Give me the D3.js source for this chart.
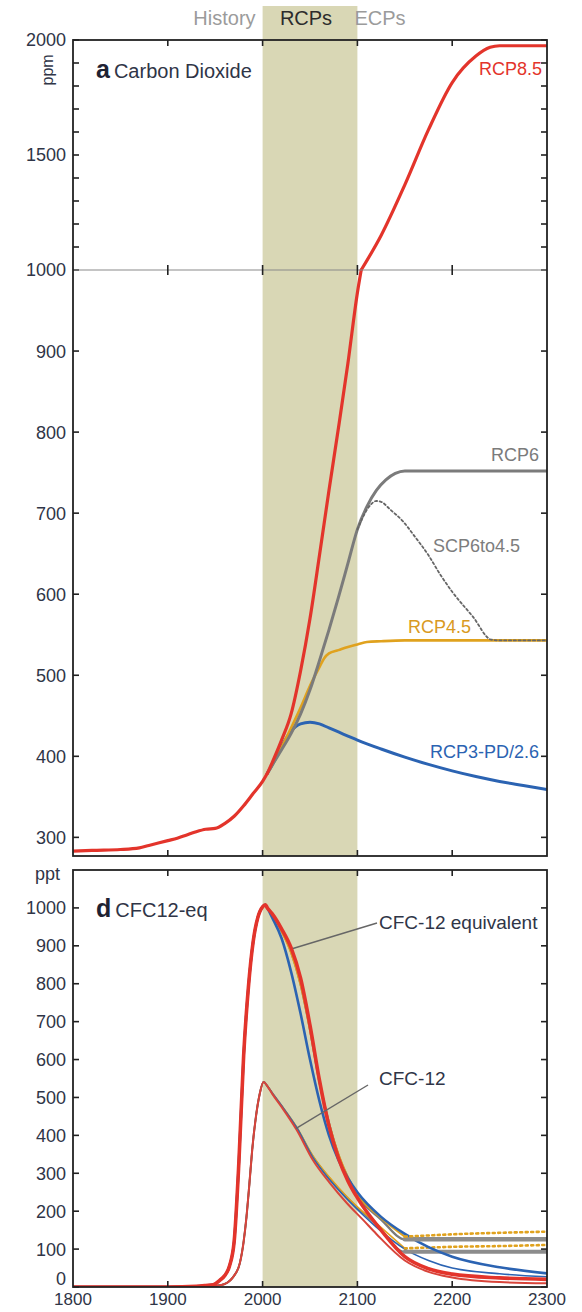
<!DOCTYPE html>
<html><head><meta charset="utf-8">
<script src="https://cdn.jsdelivr.net/npm/d3@7"></script>
<style>
html,body{margin:0;padding:0;background:#fff;}
svg{display:block;font-family:"Liberation Sans",Arial,Helvetica,sans-serif;}
</style></head><body>
<svg id="chart" width="582" height="1312"></svg>
<script>
// ---------------- data ----------------
const eraLabels = ["History", "RCPs", "ECPs"];
const rcpPeriod = [2000, 2100];
const yearTicks = [1800, 1900, 2000, 2100, 2200, 2300];

// Panel a: CO2 concentration (ppm)
const co2LowTicks = [300, 400, 500, 600, 700, 800, 900, 1000];
const co2HighTicks = [1500, 2000];
const histYears = [1800, 1820, 1850, 1870, 1880, 1900, 1910, 1920, 1930, 1940, 1950, 1960, 1970, 1980, 1990, 2000, 2005];
const histCO2   = [283, 284, 285, 287, 290, 296, 299, 303, 307, 310, 311, 317, 326, 339, 354, 369, 379];

const rcp85Years = [2005, 2010, 2020, 2030, 2040, 2050, 2060, 2070, 2080, 2090, 2100, 2104, 2125, 2150, 2175, 2200, 2225, 2240, 2250, 2300];
const rcp85CO2   = [379, 392, 420, 452, 505, 570, 648, 728, 805, 885, 972, 1000, 1150, 1370, 1610, 1815, 1930, 1968, 1975, 1975];

const rcp6Years = [2005, 2010, 2020, 2030, 2040, 2050, 2060, 2070, 2080, 2090, 2100, 2110, 2120, 2130, 2140, 2150, 2300];
const rcp6CO2   = [379, 389, 408, 428, 452, 482, 518, 556, 596, 638, 680, 708, 728, 741, 749, 752, 752];

const scpYears = [2100, 2110, 2120, 2125, 2135, 2148, 2160, 2175, 2187, 2200, 2222, 2241, 2250, 2300];
const scpCO2   = [680, 704, 715, 714, 704, 690, 672, 648, 625, 603, 572, 544, 543, 543];

const rcp45Years = [2005, 2010, 2020, 2030, 2040, 2050, 2060, 2065, 2070, 2080, 2090, 2100, 2110, 2125, 2150, 2300];
const rcp45CO2   = [379, 389, 411, 435, 460, 487, 510, 521, 527, 531, 535, 538, 541, 542, 543, 543];

const rcp3Years = [2005, 2010, 2020, 2030, 2040, 2050, 2060, 2070, 2080, 2090, 2100, 2125, 2150, 2175, 2200, 2225, 2250, 2275, 2300];
const rcp3CO2   = [379, 389, 412, 431, 440, 442, 440, 435, 430, 425, 420, 409, 399, 390, 382, 375, 369, 364, 359];

// Panel d: CFC-12 and CFC-12 equivalent (ppt)
const pptTicks = [0, 100, 200, 300, 400, 500, 600, 700, 800, 900, 1000];

const eqHistYears = [1800, 1900, 1930, 1940, 1948, 1955, 1960, 1965, 1970, 1975, 1980, 1985, 1990, 1995, 2000, 2003, 2005];
const eqHist      = [0, 0, 2, 4, 6, 18, 30, 55, 120, 330, 610, 790, 910, 975, 1003, 1008, 1000];

const eqScenYears = [2005, 2010, 2020, 2030, 2040, 2050, 2060, 2070, 2080, 2090, 2100, 2125, 2150, 2175, 2200, 2250, 2300];
const eq85  = [1000, 985, 945, 895, 815, 690, 545, 425, 340, 280, 235, 150, 80, 48, 34, 24, 20];
const eq3   = [1000, 975, 920, 832, 722, 600, 490, 400, 335, 287, 250, 185, 140, 105, 80, 52, 36];
const eq6   = [1000, 985, 940, 885, 800, 680, 540, 432, 348, 288, 242, 178, 126, 126, 126, 126, 126];
const eq45  = [1000, 985, 938, 882, 798, 678, 540, 432, 350, 290, 245, 182, 133, 136, 139, 143, 146];

const cfcHistYears = [1800, 1900, 1940, 1950, 1960, 1966, 1970, 1976, 1980, 1983, 1986, 1989, 1993, 1997, 2001, 2005];
const cfcHist      = [0, 0, 1, 3, 8, 18, 30, 63, 120, 185, 270, 361, 450, 510, 541, 530];

const cfcScenYears = [2005, 2010, 2020, 2036, 2053, 2071, 2089, 2106, 2120, 2150, 2175, 2200, 2250, 2300];
const cfc85 = [530, 510, 475, 414, 335, 274, 221, 177, 140, 70, 40, 25, 13, 10];
const cfc3  = [530, 512, 478, 420, 342, 282, 232, 190, 158, 100, 70, 50, 35, 27];
const cfc6  = [530, 512, 478, 420, 345, 286, 236, 195, 165, 93, 93, 93, 93, 93];
const cfc45 = [530, 512, 478, 421, 346, 288, 238, 198, 168, 102, 104, 106, 108, 111];

// ---------------- layout ----------------
const svg = d3.select("#chart");
const font = "'Liberation Sans', Arial, Helvetica, sans-serif";
const inkText = "#2f3547";
const colRed = "#e3342b", colBlue = "#2b63b2", colGray = "#7b7b7b", colOrange = "#e0a21e", colBand = "#d9d7b5";

const x = d3.scaleLinear().domain([1800, 2300]).range([73, 547]);

// broken CO2 axis: a compressed segment above 1000 ppm
const yLow = d3.scaleLinear().domain([277, 1000]).range([856, 270]);
const yHigh = d3.scaleLinear().domain([1000, 2000]).range([270, 40]);
const yCO2 = v => v <= 1000 ? yLow(v) : yHigh(v);

const yPpt = d3.scaleLinear().domain([0, 1100]).range([1287, 870]);

const zip = (xs, vs) => xs.map((t, i) => ({t, v: vs[i]}));

// ---------------- era band + header ----------------
svg.append("rect")
  .attr("x", x(rcpPeriod[0])).attr("width", x(rcpPeriod[1]) - x(rcpPeriod[0]))
  .attr("y", 6).attr("height", yLow.range()[0] - 6)
  .attr("fill", colBand);
svg.append("rect")
  .attr("x", x(rcpPeriod[0])).attr("width", x(rcpPeriod[1]) - x(rcpPeriod[0]))
  .attr("y", yPpt(1100)).attr("height", yPpt(0) - yPpt(1100))
  .attr("fill", colBand);

const header = svg.append("g").attr("font-size", 20).attr("font-family", font);
header.append("text").attr("x", x(rcpPeriod[0]) - 7).attr("y", 25).attr("text-anchor", "end")
  .attr("fill", "#9b9b9b").text(eraLabels[0]);
header.append("text").attr("x", (x(rcpPeriod[0]) + x(rcpPeriod[1])) / 2 - 4).attr("y", 25).attr("text-anchor", "middle")
  .attr("fill", "#2c2c2c").text(eraLabels[1]);
header.append("text").attr("x", x(rcpPeriod[1]) - 3).attr("y", 25).attr("text-anchor", "start")
  .attr("fill", "#9b9b9b").text(eraLabels[2]);

// ---------------- helpers ----------------
function frameAndTicks(g, top, bottom, yTicksAll, yScale, midRuleY) {
  const L = x.range()[0], R = x.range()[1], tl = 6;
  // y ticks on both sides (inward)
  g.selectAll(null).data(yTicksAll).join("line")
    .attr("x1", L).attr("x2", L + tl).attr("y1", d => yScale(d)).attr("y2", d => yScale(d))
    .attr("stroke", "#222").attr("stroke-width", 1.6);
  g.selectAll(null).data(yTicksAll).join("line")
    .attr("x1", R).attr("x2", R - tl).attr("y1", d => yScale(d)).attr("y2", d => yScale(d))
    .attr("stroke", "#222").attr("stroke-width", 1.6);
  const inner = yearTicks.slice(1, -1);
  g.selectAll(null).data(inner).join("line")
    .attr("x1", d => x(d)).attr("x2", d => x(d)).attr("y1", top).attr("y2", top + tl)
    .attr("stroke", "#222").attr("stroke-width", 1.6);
  g.selectAll(null).data(inner).join("line")
    .attr("x1", d => x(d)).attr("x2", d => x(d)).attr("y1", bottom).attr("y2", bottom - tl)
    .attr("stroke", "#222").attr("stroke-width", 1.6);
  if (midRuleY != null) {
    g.append("line").attr("x1", L).attr("x2", R).attr("y1", midRuleY).attr("y2", midRuleY)
      .attr("stroke", "#8a8a8a").attr("stroke-width", 1.2);
    g.selectAll(null).data(inner).join("line")
      .attr("x1", d => x(d)).attr("x2", d => x(d)).attr("y1", midRuleY - 5).attr("y2", midRuleY + 5)
      .attr("stroke", "#222").attr("stroke-width", 1.6);
  }
  g.append("rect").attr("x", L).attr("y", top).attr("width", R - L).attr("height", bottom - top)
    .attr("fill", "none").attr("stroke", "#222").attr("stroke-width", 1.8);
}

function yLabels(g, vals, yScale, lift) {
  g.selectAll(null).data(vals).join("text")
    .attr("x", x.range()[0] - 7).attr("y", d => yScale(d) - (lift ? lift(d) : 0)).attr("dy", "0.36em")
    .attr("text-anchor", "end").attr("font-size", 18).attr("fill", inkText)
    .text(d => d);
}

function drawLine(g, data, yScale, color, width, dash) {
  const line = d3.line().x(d => x(d.t)).y(d => yScale(d.v)).curve(d3.curveMonotoneX);
  g.append("path").datum(data).attr("d", line)
    .attr("fill", "none").attr("stroke", color).attr("stroke-width", width)
    .attr("stroke-linejoin", "round").attr("stroke-linecap", "round")
    .attr("stroke-dasharray", dash || null);
}

// ---------------- panel a: carbon dioxide ----------------
const ga = svg.append("g").attr("font-family", font);
const lowAll = d3.range(300, 1001, 100);
const highAll = d3.range(1100, 2001, 100);

// clip for the curves
svg.append("clipPath").attr("id", "clipA").append("rect")
  .attr("x", x.range()[0]).attr("y", yHigh(2000)).attr("width", x.range()[1] - x.range()[0])
  .attr("height", yLow.range()[0] - yHigh(2000));
const curvesA = ga.append("g").attr("clip-path", "url(#clipA)");

drawLine(curvesA, zip(rcp3Years, rcp3CO2), yCO2, colBlue, 3);
drawLine(curvesA, zip(rcp45Years, rcp45CO2), yCO2, colOrange, 2.6);
drawLine(curvesA, zip(rcp6Years, rcp6CO2), yCO2, colGray, 3);
drawLine(curvesA, zip(scpYears, scpCO2), yCO2, "#666", 1.8, "2.2,2.6");
drawLine(curvesA, zip(histYears, histCO2), yCO2, colRed, 3.2);
// RCP8.5 drawn in two parts so the break at 1000 ppm stays a sharp corner
const r85 = zip(rcp85Years, rcp85CO2);
drawLine(curvesA, r85.filter(d => d.v <= 1000), yCO2, colRed, 3.2);
drawLine(curvesA, r85.filter(d => d.v >= 1000), yCO2, colRed, 3.2);

frameAndTicks(ga, yHigh(2000), yLow.range()[0], lowAll.concat(highAll), yCO2, yLow(1000));
yLabels(ga, co2LowTicks.concat(co2HighTicks), yCO2);

ga.append("text").attr("transform", `translate(53,${yHigh(1870)}) rotate(-90)`)
  .attr("text-anchor", "middle").attr("font-size", 16).attr("fill", inkText).text("ppm");
const titleA = ga.append("text").attr("x", 96).attr("y", 78).attr("fill", "#1e2233");
titleA.append("tspan").attr("font-size", 25).attr("font-weight", "bold").text("a");
titleA.append("tspan").attr("font-size", 20).attr("fill", inkText).attr("dx", 4).text("Carbon Dioxide");

const seriesLabels = [
  {text: "RCP8.5", x: 542, y: 75, anchor: "end", color: colRed},
  {text: "RCP6", x: 539, y: 461, anchor: "end", color: colGray},
  {text: "SCP6to4.5", x: 433, y: 552, anchor: "start", color: "#7d7d7d"},
  {text: "RCP4.5", x: 408, y: 633, anchor: "start", color: "#d99a22"},
  {text: "RCP3-PD/2.6", x: 539, y: 758, anchor: "end", color: colBlue}
];
ga.selectAll(null).data(seriesLabels).join("text")
  .attr("x", d => d.x).attr("y", d => d.y).attr("text-anchor", d => d.anchor)
  .attr("font-size", 18).attr("fill", d => d.color).text(d => d.text);

// ---------------- panel d: CFC12-eq ----------------
const gd = svg.append("g").attr("font-family", font);
svg.append("clipPath").attr("id", "clipD").append("rect")
  .attr("x", x.range()[0]).attr("y", yPpt(1100)).attr("width", x.range()[1] - x.range()[0])
  .attr("height", yPpt(0) - yPpt(1100));
const curvesD = gd.append("g").attr("clip-path", "url(#clipD)");

const eqFull = s => zip(eqHistYears, eqHist).slice(0, -1).concat(zip(eqScenYears, s));
const cfcFull = s => zip(cfcHistYears, cfcHist).slice(0, -1).concat(zip(cfcScenYears, s));

// CFC-12 (thinner)
drawLine(curvesD, cfcFull(cfc6), yPpt, colGray, 2);
drawLine(curvesD, cfcFull(cfc45).filter(d => d.t <= 2150), yPpt, colOrange, 1.6);
drawLine(curvesD, cfcFull(cfc3), yPpt, colBlue, 1.6);
drawLine(curvesD, cfcFull(cfc85), yPpt, "#d8443a", 2);
// ECP plateaus: held concentrations drawn as broad gray with orange dots
drawLine(curvesD, zip(cfcScenYears, cfc6).filter(d => d.t >= 2150), yPpt, "#8c8c8c", 4);
drawLine(curvesD, zip(cfcScenYears, cfc45).filter(d => d.t >= 2150), yPpt, colOrange, 2.6, "2,3.5");

// CFC-12 equivalent (thicker)
drawLine(curvesD, eqFull(eq6), yPpt, colGray, 2.4);
drawLine(curvesD, eqFull(eq45).filter(d => d.t <= 2150), yPpt, colOrange, 2);
drawLine(curvesD, eqFull(eq3), yPpt, colBlue, 2.6);
drawLine(curvesD, zip(eqScenYears, eq6).filter(d => d.t >= 2150), yPpt, "#8c8c8c", 4.5);
drawLine(curvesD, zip(eqScenYears, eq45).filter(d => d.t >= 2150), yPpt, colOrange, 2.6, "2,3.5");
drawLine(curvesD, eqFull(eq85), yPpt, colRed, 3.6);

frameAndTicks(gd, yPpt(1100), yPpt(0), d3.range(0, 1001, 100), yPpt, null);
// the zero label sits a little higher to clear the year labels beneath it
yLabels(gd, pptTicks, yPpt, d => d === 0 ? 8 : 0);
gd.append("text").attr("x", 60).attr("y", yPpt(1100) + 4).attr("dy", "0.36em").attr("text-anchor", "end")
  .attr("font-size", 18).attr("fill", inkText).text("ppt");

const titleD = gd.append("text").attr("x", 96).attr("y", 917).attr("fill", "#1e2233");
titleD.append("tspan").attr("font-size", 25).attr("font-weight", "bold").text("d");
titleD.append("tspan").attr("font-size", 20).attr("fill", inkText).attr("dx", 4).text("CFC12-eq");

// labels with leader lines to the curves
const leaders = [
  {text: "CFC-12 equivalent", t: 2032, v: 893, lx: 377, ly: 923, ty: 929},
  {text: "CFC-12", t: 2035, v: 418, lx: 368, ly: 1085, ty: 1085}
];
gd.selectAll(null).data(leaders).join("line")
  .attr("x1", d => x(d.t)).attr("y1", d => yPpt(d.v)).attr("x2", d => d.lx).attr("y2", d => d.ly)
  .attr("stroke", "#666").attr("stroke-width", 1.4);
gd.selectAll(null).data(leaders).join("text")
  .attr("x", 379).attr("y", d => d.ty).attr("font-size", 19).attr("fill", inkText)
  .text(d => d.text);

// x axis labels
gd.selectAll(null).data(yearTicks).join("text")
  .attr("x", d => x(d)).attr("y", 1305).attr("text-anchor", "middle")
  .attr("font-size", 17).attr("fill", inkText).text(d => d);
</script>
</body></html>
